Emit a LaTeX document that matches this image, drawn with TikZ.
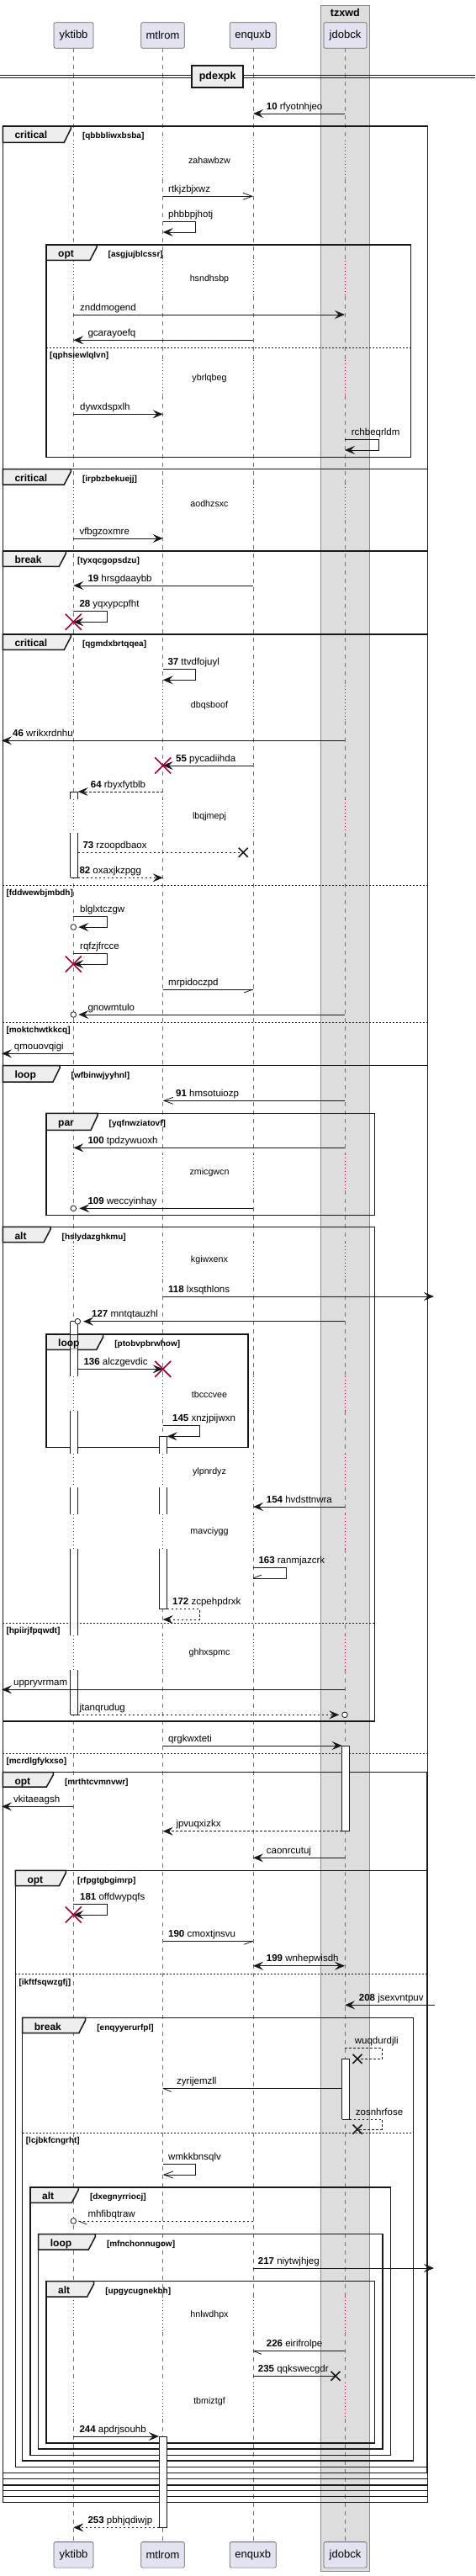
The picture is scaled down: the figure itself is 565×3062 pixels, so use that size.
\documentclass[tikz,border=0pt]{standalone}
\usepackage{fontspec}
\setmainfont{Liberation Sans}
\usetikzlibrary{arrows.meta}
\pgfdeclarelayer{front}
\pgfsetlayers{main,front}
\definecolor{ink}{HTML}{181818}
\definecolor{pfill}{HTML}{E2E2F0}
\definecolor{bandfill}{HTML}{DDDDDD}
\definecolor{tabgray}{HTML}{EEEEEE}
\definecolor{crim}{HTML}{A80036}
\tikzset{
  msgl/.style={draw=ink, line width=0.8pt},
  dsh/.style={dash pattern=on 2.5pt off 2.5pt},
  fa/.style={-{Stealth[length=12pt,width=10pt,inset=4.7pt]}},
  fa2/.style={{Stealth[length=12pt,width=10pt,inset=4.7pt]}-{Stealth[length=12pt,width=10pt,inset=4.7pt]}},
  oa/.style={-{Straight Barb[length=11pt,width=8pt]}},
  pbox/.style={draw=black!60, fill=pfill, rounded corners=2pt, line width=0.7pt, inner sep=0pt, minimum height=30.6pt, font=\fontsize{13}{15}\selectfont},
  frameline/.style={draw=ink, line width=1.5pt},
  elsline/.style={draw=ink, line width=0.8pt, dash pattern=on 2pt off 2pt},
  lifel/.style={draw=black!55, line width=0.7pt, dash pattern=on 5pt off 5pt},
  delayl/.style={draw=crim, line width=0.8pt, dash pattern=on 1pt off 3pt},
  actl/.style={draw=ink, line width=0.9pt},
  mlab/.style={anchor=base west, inner sep=0pt, font=\fontsize{11.5}{13}\selectfont},
  dlab/.style={inner sep=0pt, font=\fontsize{10.7}{12}\selectfont},
  tablab/.style={anchor=base west, inner sep=0pt, font=\bfseries\fontsize{12}{14}\selectfont},
  condlab/.style={anchor=base west, inner sep=0pt, font=\bfseries\fontsize{10}{12}\selectfont},
}
\newcommand\Mconn[5]{\coordinate (#1a) at (#2,#4); \coordinate (#1b) at (#3,#4); \draw[msgl,#5] (#1a) -- (#1b);}
\newcommand\Mself[7]{\coordinate (#1a) at (#2,#5); \coordinate (#1b) at (#3,#5); \coordinate (#1c) at (#3,#6); \coordinate (#1d) at (#4,#6); \draw[msgl,#7] (#1a) -- (#1b) -- (#1c) -- (#1d);}
\newcommand\Mlab[4]{\node[mlab] (#1) at (#2,#3-5) {#4};}
\newcommand\Mdly[3]{\node[dlab] (#1) at (249,#2) {#3};}
\newcommand\Mrx[3]{\coordinate (#1) at (#2,#3); \draw[crim, line width=1.6pt] (#2-9.5,#3-9.5) -- (#2+9.5,#3+9.5) (#2-9.5,#3+9.5) -- (#2+9.5,#3-9.5);}
\newcommand\Mbx[3]{\coordinate (#1) at (#2,#3); \draw[ink, line width=1.6pt] (#2-5.5,#3-5.5) -- (#2+5.5,#3+5.5) (#2-5.5,#3+5.5) -- (#2+5.5,#3-5.5);}
\newcommand\Mhb[5]{\coordinate (#1) at (#2,#3); \draw[msgl] (#1) -- ++(#4,#5);}
\newcommand\Mcirc[3]{\coordinate (#1) at (#2,#3); \draw[msgl, fill=white] (#1) circle[radius=3.3pt];}
\newcommand\Mgrp[9]{%
  \draw[frameline] (#2,#3) rectangle (#4,#5);
  \filldraw[frameline, fill=tabgray] (#2,#3) -- (#6,#3) -- (#6,#3+3) -- (#6-8,#7) -- (#2,#7) -- cycle;
  \begin{pgfonlayer}{front}
  \node[tablab] (#1k) at (#2+14,#3+14.7) {#8};
  \node[condlab] (#1c) at (#6+13.5,#3+14.7) {#9};
  \end{pgfonlayer}}
\newcommand\Mels[5]{\draw[elsline] (#2,#4) -- (#3,#4); \node[condlab] (#1) at (#2+4,#4+12.5) {#5};}
\newcommand\Mact[5]{%
  \foreach \ya/\yb in {#5} {\fill[white] (#1,\ya) rectangle (#2,\yb); \draw[actl] (#1,\ya) -- (#1,\yb) (#2,\ya) -- (#2,\yb);}
  \draw[actl] (#1,#3) -- (#2,#3) (#1,#4) -- (#2,#4);}
\begin{document}
\begin{tikzpicture}[x=1pt,y=-1pt]
\useasboundingbox (0,0) rectangle (565,3062);
% box group
\filldraw[fill=bandfill, draw=black!45, line width=1pt] (381.3,6) rectangle (439.3,3056.7);
\node[font=\bfseries\fontsize{12.5}{14}\selectfont, inner sep=0pt] (tzx) at (410.3,15) {tzxwd};
% lifelines
\foreach \x in {87.3,193.7,301,410} {
  \foreach \ya/\yb in {57.3/166.7, 213.3/310, 351.7/428, 470/575, 618/815, 856.7/950, 990/1371.7, 1415/1476.7, 1520/1636, 1676.7/1728.3, 1768.3/1800, 1841/1944.3, 1985/2730, 2771.7/2831.7, 2875/3021.7}
    {\draw[lifel] (\x,\ya) -- (\x,\yb);}
  \foreach \ya/\yb in {166.7/213.3, 310/351.7, 428/470, 575/618, 815/856.7, 950/990, 1371.7/1415, 1476.7/1520, 1636/1676.7, 1728.3/1768.3, 1800/1841, 1944.3/1985, 2730/2771.7, 2831.7/2875}
    {\draw[delayl] (\x,\ya) -- (\x,\yb);}
}
% participants
\node[pbox, minimum width=47pt] (yk) at (87.5,42) {yktibb};
\node[pbox, minimum width=51.6pt] (mt) at (193.5,42) {mtlrom};
\node[pbox, minimum width=55pt] (en) at (300.8,42) {enquxb};
\node[pbox, minimum width=51pt] (jd) at (410.5,42) {jdobck};
\node[pbox, minimum width=47pt] (ykb) at (87.5,3036.8) {yktibb};
\node[pbox, minimum width=51.6pt] (mtb) at (193.5,3036.8) {mtlrom};
\node[pbox, minimum width=55pt] (enb) at (300.8,3036.8) {enquxb};
\node[pbox, minimum width=51pt] (jdb) at (410.5,3036.8) {jdobck};
% divider
\coordinate (dvl) at (0,89.3); \coordinate (dvr) at (565,89.3);
\coordinate (dvl2) at (0,92.7); \coordinate (dvr2) at (565,92.7);
\draw[ink, line width=0.9pt] (dvl) -- (dvr) (dvl2) -- (dvr2);
\node[draw=ink, line width=1.8pt, fill=tabgray, minimum width=60.7pt, minimum height=26.3pt, inner sep=0pt, font=\bfseries\fontsize{12.5}{14}\selectfont] (pdx) at (258.7,91.2) {pdexpk};
% frames
\Mgrp{F1}{3.3}{150}{508.3}{2974.3}{84.3}{169.3}{critical}{[qbbbliwxbsba]}
\Mgrp{F2}{55}{291}{488.3}{543.3}{115}{309.3}{opt}{[asgjujblcssr]}
\Mels{E2}{55}{488.3}{413.3}{[qphsiewlqlvn]}
\Mgrp{F3}{3.3}{557.7}{508.3}{2967.3}{84.3}{576}{critical}{[irpbzbekuejj]}
\Mgrp{F4}{3.3}{655}{508.3}{2960.7}{78.3}{673.3}{break}{[tyxqcgopsdzu]}
\Mgrp{F5}{3.3}{754}{508.3}{2954}{84.3}{772.3}{critical}{[qgmdxbrtqqea]}
\Mels{E5a}{3.3}{508.3}{1052.3}{[fddwewbjmbdh]}
\Mels{E5b}{3.3}{508.3}{1215}{[moktchwtkkcq]}
\Mgrp{F6}{3.3}{1266.7}{508.3}{2946.7}{71}{1286}{loop}{[wfbinwjyyhnl]}
\Mels{E6}{3.3}{508.3}{2084}{[mcrdlgfykxso]}
\Mgrp{F7}{55}{1323.3}{445.7}{1444.3}{116}{1343.3}{par}{[yqfnwziatovf]}
\Mgrp{F8}{3.3}{1458.3}{445.7}{2046}{60}{1476.7}{alt}{[hslydazghkmu]}
\Mels{E8}{3.3}{445.7}{1929.3}{[hpiirjfpqwdt]}
\Mgrp{F9}{55}{1586}{295}{1720.7}{122.7}{1604.3}{loop}{[ptobvpbrwhow]}
\Mgrp{F10}{3.3}{2106.7}{507.3}{2939.3}{63.3}{2124}{opt}{[mrthtcvmnvwr]}
\Mgrp{F11}{18.3}{2223.3}{507.3}{2932.7}{78.3}{2241.7}{opt}{[rfpgtgbgimrp]}
\Mels{E11}{18.3}{507.3}{2346.7}{[ikftfsqwzgfj]}
\Mgrp{F12}{26.7}{2398.3}{491.7}{2925}{101.7}{2416.7}{break}{[enqyyerurfpl]}
\Mels{E12}{26.7}{491.7}{2535}{[lcjbkfcngrht]}
\Mgrp{F13}{36}{2600}{464.3}{2918.3}{93.3}{2618.3}{alt}{[dxegnyrriocj]}
\Mgrp{F14}{45.7}{2655.7}{455}{2911}{113.3}{2674}{loop}{[mfnchonnugow]}
\Mgrp{F15}{55}{2711.7}{445.7}{2904}{111.7}{2730}{alt}{[upgycugnekbh]}
% activations
\Mact{83.7}{92.7}{941}{1043.3}{941/950, 990/1043.3}
\Mact{83.7}{92.7}{1570.7}{2038.3}{1570.7/1586, 1604.3/1636, 1676.7/1728.3, 1768.3/1800, 1841/1944.3, 1985/2038.3}
\draw[actl] (83.7,1586) -- (83.7,1604.3) (92.7,1586) -- (92.7,1604.3);
\Mact{189}{198.7}{1707.3}{1912.3}{1707.3/1728.3, 1768.3/1800, 1841/1912.3}
\Mact{406.7}{415.7}{2075}{2176.7}{2075/2176.7}
\Mact{406.7}{415.7}{2447.3}{2519}{2447.3/2519}
\Mact{189}{198.7}{2896}{3004.3}{2896/3004.3}
% messages
\Mconn{m10}{410}{301}{135}{fa}
\Mlab{t10}{316.7}{135}{\textbf{10} rfyotnhjeo}
\Mdly{d1}{191}{zahawbzw}
\Mconn{mrt}{193.7}{301}{233.3}{oa}
\Mlab{trt}{200}{233.3}{rtkjzbjxwz}
\Mself{mph}{193.7}{232.3}{193.7}{263.3}{276}{fa}
\Mlab{tph}{200}{263.3}{phbbpjhotj}
\Mdly{d2}{331.3}{hsndhsbp}
\Mconn{mzn}{87.3}{410}{374}{fa}
\Mlab{tzn}{95}{374}{znddmogend}
\Mconn{mgc}{301}{87.3}{404.3}{fa}
\Mlab{tgc}{104.3}{404.3}{gcarayoefq}
\Mdly{d3}{450}{ybrlqbeg}
\Mconn{mdy}{87.3}{193.7}{492.3}{fa}
\Mlab{tdy}{95}{492.3}{dywxdspxlh}
\Mself{mrc}{410}{450}{410}{522.3}{535}{fa}
\Mlab{trc}{417.7}{522.3}{rchbeqrldm}
\Mdly{d4}{598.3}{aodhzsxc}
\Mconn{mvf}{87.3}{193.7}{640}{fa}
\Mlab{tvf}{94.3}{640}{vfbgzoxmre}
\Mconn{m19}{301}{87.3}{696}{fa}
\Mlab{t19}{104.3}{696}{\textbf{19} hrsgdaaybb}
\Mself{m28}{87.3}{127}{87.3}{726.7}{739.3}{fa}
\Mrx{x28}{87.3}{739.3}
\Mlab{t28}{94.3}{726.7}{\textbf{28} yqxypcpfht}
\Mself{m37}{193.7}{232.3}{193.7}{795.7}{808.3}{fa}
\Mlab{t37}{199.3}{795.7}{\textbf{37} ttvdfojuyl}
\Mdly{d5}{838.3}{dbqsboof}
\Mconn{m46}{410}{2}{880.3}{fa}
\Mlab{t46}{15}{880.3}{\textbf{46} wrikxrdnhu}
\Mconn{m55}{301}{193.7}{910}{fa}
\Mrx{x55}{193.7}{910}
\Mlab{t55}{209}{910}{\textbf{55} pycadiihda}
\Mconn{m64}{193.7}{92.7}{941}{fa,dsh}
\Mlab{t64}{107.7}{941}{\textbf{64} rbyxfytblb}
\Mdly{d6}{970.7}{lbqjmepj}
\Mconn{m73}{92.7}{289.3}{1013.3}{dsh}
\Mbx{x73}{289.3}{1013.3}
\Mlab{t73}{98.3}{1013.3}{\textbf{73} rzoopdbaox}
\Mconn{m82}{92.7}{193.7}{1043.3}{fa,dsh}
\Mlab{t82}{94.3}{1043.3}{\textbf{82} oxaxjkzpgg}
\Mself{mbl}{87.3}{127}{93.3}{1089.3}{1102}{fa}
\Mcirc{cbl}{87.3}{1102}
\Mlab{tbl}{95}{1089.3}{blglxtczgw}
\Mself{mrq}{87.3}{127}{87.3}{1133.3}{1146}{fa}
\Mrx{xrq}{87.3}{1146}
\Mlab{trq}{95}{1133.3}{rqfzjfrcce}
\Mconn{mmr}{193.7}{301}{1176}{}
\Mhb{hmr}{301}{1176}{-11}{4}
\Mlab{tmr}{200}{1176}{mrpidoczpd}
\Mconn{mgn}{410}{93.3}{1206}{fa}
\Mcirc{cgn}{87.3}{1206}
\Mlab{tgn}{104.3}{1206}{gnowmtulo}
\Mconn{mqm}{87.3}{2}{1252.3}{fa}
\Mlab{tqm}{16.7}{1252.3}{qmouovqigi}
\Mconn{m91}{410}{193.7}{1308.3}{oa}
\Mlab{t91}{209}{1308.3}{\textbf{91} hmsotuiozp}
\Mconn{m100}{410}{87.3}{1364.3}{fa}
\Mlab{t100}{104.3}{1364.3}{\textbf{100} tpdzywuoxh}
\Mdly{d7}{1394}{zmicgwcn}
\Mconn{m109}{301}{94.3}{1436.3}{fa}
\Mcirc{c109}{87.3}{1436.3}
\Mlab{t109}{104.3}{1436.3}{\textbf{109} weccyinhay}
\Mdly{d8}{1497.7}{kgiwxenx}
\Mconn{m118}{193.7}{516}{1541}{fa}
\Mlab{t118}{200}{1541}{\textbf{118} lxsqthlons}
\Mconn{m127}{410}{99}{1570.7}{fa}
\Mcirc{c127}{92.3}{1570.7}
\Mlab{t127}{109}{1570.7}{\textbf{127} mntqtauzhl}
\Mconn{m136}{92.7}{193.7}{1627.3}{fa}
\Mrx{x136}{193.7}{1627.3}
\Mlab{t136}{99.3}{1627.3}{\textbf{136} alczgevdic}
\Mdly{d9}{1657.3}{tbcccvee}
\Mself{m145}{193.7}{237}{198.7}{1694.3}{1707.3}{fa}
\Mlab{t145}{205}{1694.3}{\textbf{145} xnzjpijwxn}
\Mdly{d10}{1750}{ylpnrdyz}
\Mconn{m154}{410}{301}{1791}{fa}
\Mlab{t154}{316.7}{1791}{\textbf{154} hvdsttnwra}
\Mdly{d11}{1821}{mavciygg}
\Mself{m163}{301}{340}{301}{1863.3}{1876}{}
\Mhb{h163}{301}{1876}{10}{-4}
\Mlab{t163}{307.3}{1863.3}{\textbf{163} ranmjazcrk}
\Mself{m172}{198.7}{237}{193.7}{1912.3}{1925}{fa,dsh}
\Mlab{t172}{205}{1912.3}{\textbf{172} zcpehpdrxk}
\Mdly{d12}{1965}{ghhxspmc}
\Mconn{mup}{410}{2}{2008.3}{fa}
\Mlab{tup}{16}{2008.3}{uppryvrmam}
\Mconn{mjt}{92.7}{403.3}{2038.3}{fa,dsh}
\Mcirc{cjt}{410}{2038.3}
\Mlab{tjt}{94.3}{2038.3}{jtanqrudug}
\Mconn{mqr}{193.7}{406.7}{2075}{fa}
\Mlab{tqr}{200}{2075}{qrgkwxteti}
\Mconn{mvk}{87.3}{2}{2147.3}{fa}
\Mlab{tvk}{16}{2147.3}{vkitaeagsh}
\Mconn{mjp}{406.7}{193.7}{2176.7}{fa,dsh}
\Mlab{tjp}{209.3}{2176.7}{jpvuqxizkx}
\Mconn{mca}{410}{301}{2208.3}{fa}
\Mlab{tca}{316.7}{2208.3}{caonrcutuj}
\Mself{m181}{87.3}{127}{87.3}{2263.3}{2276}{fa}
\Mrx{x181}{87.3}{2276}
\Mlab{t181}{95}{2263.3}{\textbf{181} offdwypqfs}
\Mconn{m190}{193.7}{301}{2307.3}{}
\Mhb{h190}{301}{2307.3}{-11}{4}
\Mlab{t190}{200}{2307.3}{\textbf{190} cmoxtjnsvu}
\Mconn{m199}{301}{410}{2336.7}{fa2}
\Mlab{t199}{316.7}{2336.7}{\textbf{199} wnhepwisdh}
\Mconn{m208}{516.7}{410}{2383.3}{fa}
\Mlab{t208}{426.7}{2383.3}{\textbf{208} jsexvntpuv}
\Mself{mwu}{410}{454.3}{425}{2434.3}{2447.3}{dsh}
\Mbx{xwu}{425}{2447.3}
\Mlab{twu}{421.7}{2434.3}{wuqdurdjli}
\Mconn{mzy}{406.7}{193.7}{2482.3}{}
\Mhb{hzy}{193.7}{2482.3}{10}{4}
\Mlab{tzy}{210}{2482.3}{zyrijemzll}
\Mself{mzo}{415.7}{454.3}{425}{2519}{2531}{dsh}
\Mbx{xzo}{425}{2531}
\Mlab{tzo}{422.7}{2519}{zosnhrfose}
\Mself{mwm}{193.7}{232.3}{193.7}{2572.3}{2585}{oa}
\Mlab{twm}{200}{2572.3}{wmkkbnsqlv}
\Mconn{mmh}{301}{93.3}{2640}{dsh}
\Mhb{hmh}{93.3}{2640}{10}{4}
\Mcirc{cmh}{87.3}{2640}
\Mlab{tmh}{104.3}{2640}{mhfibqtraw}
\Mconn{m217}{301}{516}{2696}{fa}
\Mlab{t217}{306.7}{2696}{\textbf{217} niytwjhjeg}
\Mdly{d13}{2751.7}{hnlwdhpx}
\Mconn{m226}{410}{301}{2794.3}{}
\Mhb{h226}{301}{2794.3}{10}{4}
\Mlab{t226}{316.7}{2794.3}{\textbf{226} eirifrolpe}
\Mconn{m235}{301}{399}{2824.3}{}
\Mbx{x235}{399}{2824.3}
\Mlab{t235}{306.7}{2824.3}{\textbf{235} qqkswecgdr}
\Mdly{d14}{2854.3}{tbmiztgf}
\Mconn{m244}{87.3}{189}{2896}{fa}
\Mlab{t244}{94.3}{2896}{\textbf{244} apdrjsouhb}
\Mconn{m253}{189}{87.3}{3004.3}{fa,dsh}
\Mlab{t253}{104.3}{3004.3}{\textbf{253} pbhjqdiwjp}
\end{tikzpicture}
\end{document}
